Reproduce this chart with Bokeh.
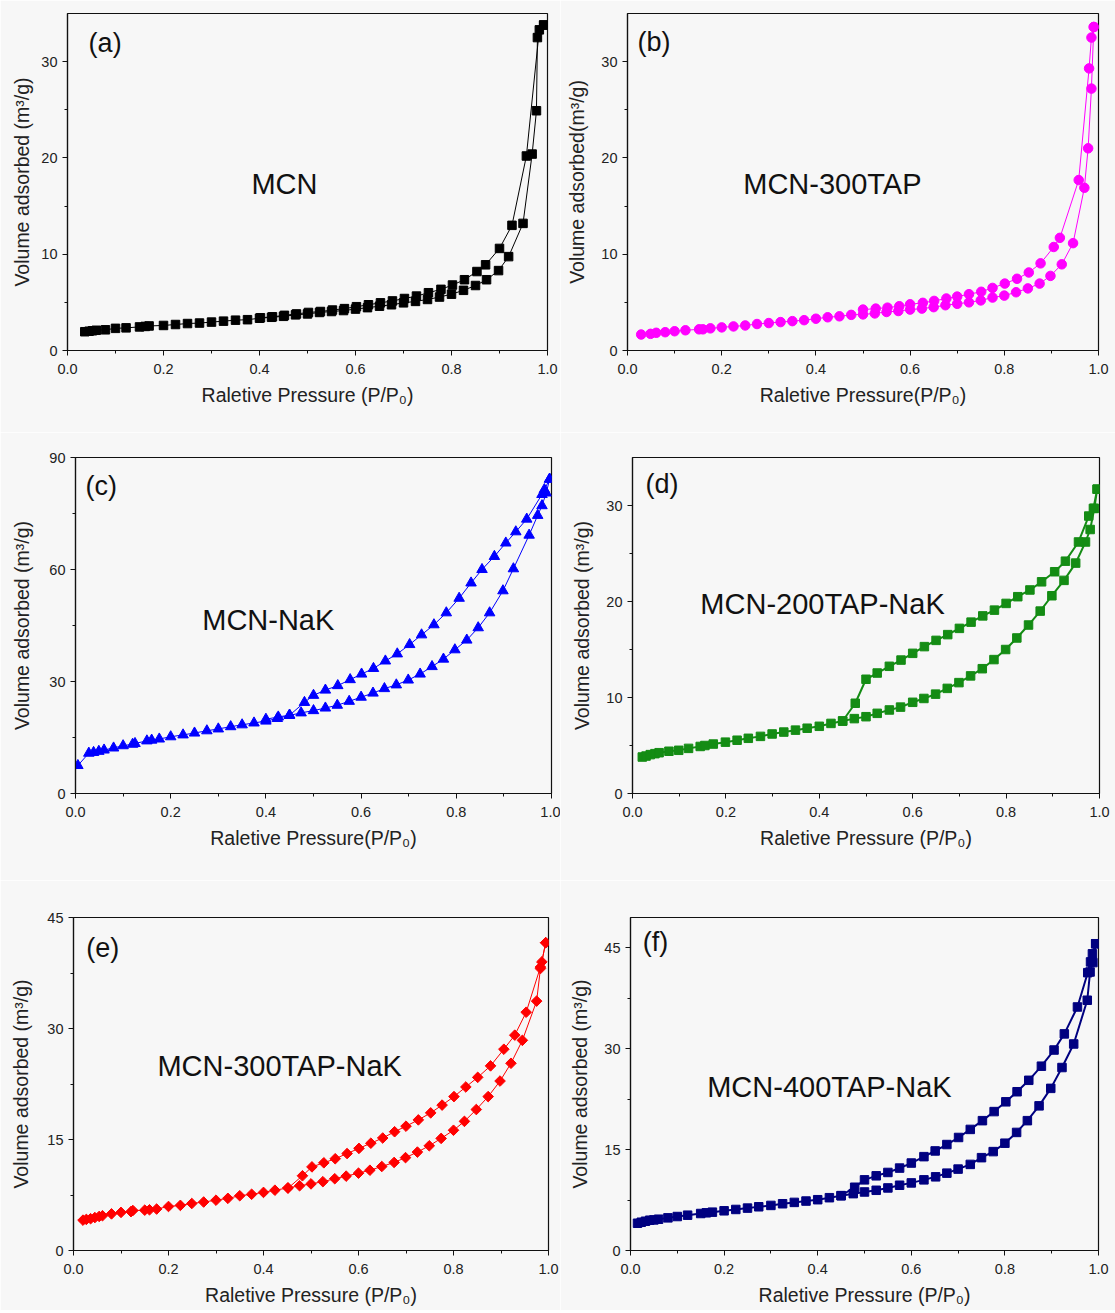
from bokeh.plotting import figure
from bokeh.layouts import column, row
from bokeh.models import Range1d, FixedTicker, PrintfTickFormatter, Label
from bokeh.embed import file_html
from bokeh.resources import INLINE
import math

FONT = "Liberation Sans"

# ---------------- data ----------------
# (a) MCN
ads_p_a = [0.036,0.045,0.052,0.06,0.079,0.1,0.122,0.15,0.162,0.17,0.2,0.225,0.25,0.275,0.3,0.325,0.35,0.375,0.4,0.425,0.45,0.475,0.5,0.525,0.55,0.575,0.6,0.625,0.65,0.675,0.7,0.725,0.75,0.775,0.8,0.825,0.85,0.873,0.898,0.919,0.949,0.968,0.977,0.979,0.992]
ads_v_a = [1.95,2.0,2.05,2.1,2.15,2.3,2.35,2.45,2.5,2.55,2.6,2.7,2.8,2.85,2.95,3.05,3.15,3.2,3.35,3.45,3.55,3.7,3.8,3.95,4.05,4.15,4.3,4.45,4.6,4.75,4.95,5.1,5.3,5.55,5.85,6.25,6.75,7.35,8.3,9.75,13.2,20.4,24.9,32.5,33.8]
des_p_a = [0.992,0.983,0.956,0.926,0.9,0.871,0.853,0.827,0.802,0.778,0.752,0.727,0.702,0.677,0.652,0.627,0.602,0.577,0.552,0.527,0.502,0.477,0.452,0.427,0.402]
des_v_a = [33.8,33.3,20.2,13.0,10.6,8.9,8.2,7.35,6.8,6.35,6.0,5.65,5.4,5.15,4.95,4.75,4.55,4.35,4.2,4.05,3.95,3.8,3.65,3.5,3.4]

# (b) MCN-300TAP
ads_p_b = [0.029,0.049,0.061,0.08,0.1,0.123,0.152,0.16,0.176,0.2,0.225,0.25,0.275,0.3,0.325,0.35,0.375,0.4,0.425,0.45,0.475,0.5,0.525,0.55,0.575,0.6,0.625,0.65,0.675,0.7,0.725,0.75,0.775,0.8,0.825,0.85,0.875,0.898,0.922,0.946,0.97,0.978,0.985,0.99]
ads_v_b = [1.66,1.73,1.84,1.9,2.0,2.1,2.2,2.2,2.3,2.4,2.5,2.6,2.75,2.85,2.95,3.05,3.15,3.3,3.45,3.55,3.7,3.75,3.85,4.0,4.1,4.25,4.35,4.5,4.7,4.85,5.0,5.2,5.5,5.7,6.05,6.45,6.95,7.75,8.95,11.15,16.9,21.0,27.2,33.6]
des_p_b = [0.99,0.985,0.98,0.958,0.918,0.905,0.877,0.852,0.827,0.801,0.775,0.751,0.725,0.7,0.677,0.651,0.627,0.6,0.577,0.552,0.527,0.5]
des_v_b = [33.6,32.5,29.3,17.7,11.7,10.75,9.05,8.1,7.45,6.95,6.5,6.1,5.85,5.6,5.4,5.15,4.95,4.8,4.6,4.45,4.35,4.25]

# (c) MCN-NaK
ads_p_c = [0.005,0.028,0.038,0.049,0.06,0.08,0.1,0.12,0.125,0.15,0.16,0.176,0.2,0.226,0.25,0.276,0.3,0.326,0.35,0.375,0.4,0.424,0.449,0.474,0.5,0.525,0.55,0.575,0.6,0.625,0.649,0.674,0.699,0.724,0.749,0.773,0.797,0.822,0.846,0.87,0.898,0.92,0.953,0.971,0.98,0.989,0.996]
ads_v_c = [7.5,10.8,11.0,11.3,11.65,12.2,12.8,13.2,13.4,14.1,14.3,14.6,15.2,15.7,16.2,16.8,17.3,17.9,18.4,18.9,19.4,20.1,20.9,21.6,22.2,22.9,23.65,24.7,25.8,26.9,28.1,29.1,30.4,32.0,34.0,36.0,38.5,41.1,44.4,48.4,54.3,60.2,69.2,74.5,77.1,80.5,84.2]
des_p_c = [0.996,0.985,0.98,0.948,0.925,0.904,0.88,0.854,0.831,0.806,0.779,0.753,0.727,0.702,0.676,0.651,0.626,0.601,0.577,0.551,0.525,0.5,0.481,0.45,0.426,0.4]
des_v_c = [84.2,81.4,80.1,73.5,70.1,67.1,63.5,60.0,56.4,52.3,48.4,45.2,42.5,39.9,37.4,35.5,33.5,32.0,30.5,28.9,27.7,26.3,24.4,21.0,20.5,19.9]

# (d) MCN-200TAP-NaK
ads_p_d = [0.021,0.029,0.038,0.048,0.057,0.078,0.099,0.12,0.145,0.155,0.173,0.199,0.224,0.248,0.274,0.299,0.324,0.349,0.374,0.4,0.425,0.45,0.475,0.5,0.524,0.55,0.574,0.6,0.624,0.649,0.674,0.699,0.724,0.749,0.774,0.799,0.823,0.848,0.873,0.898,0.924,0.949,0.97,0.98,0.989,0.995]
ads_v_d = [3.8,3.9,4.05,4.15,4.25,4.4,4.5,4.7,4.9,5.0,5.15,5.35,5.55,5.75,5.95,6.2,6.4,6.6,6.8,7.0,7.3,7.55,7.8,8.0,8.35,8.7,9.0,9.5,9.9,10.35,10.95,11.55,12.25,13.0,13.95,15.0,16.2,17.55,19.0,20.6,22.2,24.0,26.2,27.5,29.7,31.7]
des_p_d = [0.995,0.987,0.977,0.955,0.927,0.904,0.876,0.851,0.825,0.8,0.775,0.75,0.725,0.7,0.675,0.65,0.625,0.6,0.575,0.55,0.524,0.5,0.477,0.45]
des_v_d = [31.7,29.7,28.9,26.2,24.2,23.1,22.05,21.2,20.5,19.8,19.1,18.5,17.85,17.2,16.55,15.95,15.3,14.6,13.9,13.25,12.55,11.9,9.4,7.55]

# (e) MCN-300TAP-NaK
ads_p_e = [0.02,0.027,0.036,0.045,0.054,0.061,0.08,0.1,0.121,0.125,0.15,0.16,0.175,0.2,0.225,0.249,0.274,0.3,0.325,0.35,0.375,0.4,0.424,0.451,0.476,0.5,0.525,0.55,0.574,0.6,0.624,0.649,0.675,0.699,0.724,0.749,0.774,0.8,0.823,0.848,0.873,0.898,0.921,0.945,0.975,0.983,0.994]
ads_v_e = [4.1,4.2,4.3,4.45,4.6,4.7,4.95,5.15,5.25,5.4,5.45,5.5,5.6,5.95,6.1,6.35,6.55,6.8,7.05,7.4,7.6,7.85,8.15,8.45,8.75,9.0,9.3,9.7,10.05,10.45,10.85,11.35,11.9,12.55,13.3,14.15,15.15,16.25,17.45,19.05,20.8,22.9,25.3,28.4,33.7,38.1,41.6]
des_p_e = [0.994,0.986,0.983,0.953,0.929,0.906,0.878,0.851,0.826,0.801,0.776,0.752,0.726,0.7,0.676,0.651,0.626,0.601,0.576,0.551,0.527,0.502,0.482,0.452]
des_v_e = [41.6,39.0,38.3,32.2,29.1,27.2,24.95,23.4,22.1,20.8,19.65,18.6,17.65,16.8,16.05,15.2,14.5,13.8,13.1,12.4,11.85,11.3,10.1,8.45]

# (f) MCN-400TAP-NaK
ads_p_f = [0.015,0.023,0.032,0.041,0.05,0.06,0.08,0.1,0.122,0.15,0.162,0.175,0.2,0.225,0.25,0.274,0.3,0.325,0.35,0.375,0.4,0.425,0.45,0.476,0.5,0.525,0.55,0.575,0.6,0.627,0.652,0.676,0.7,0.726,0.75,0.775,0.8,0.825,0.848,0.873,0.898,0.922,0.947,0.976,0.982,0.988,0.994]
ads_v_f = [4.05,4.2,4.35,4.5,4.55,4.65,4.85,5.05,5.25,5.5,5.6,5.7,5.9,6.1,6.3,6.5,6.7,6.95,7.15,7.35,7.55,7.85,8.15,8.45,8.7,8.95,9.3,9.7,10.05,10.5,10.95,11.5,12.1,12.8,13.8,14.7,15.95,17.55,19.3,21.5,24.1,27.2,30.7,37.2,41.4,42.8,45.6]
des_p_f = [0.994,0.987,0.983,0.977,0.955,0.927,0.905,0.878,0.851,0.826,0.802,0.777,0.752,0.726,0.701,0.676,0.651,0.627,0.6,0.575,0.55,0.525,0.5,0.479,0.45]
des_v_f = [45.6,44.1,42.9,41.3,36.2,32.2,29.8,27.4,25.3,23.6,22.1,20.65,19.3,18.0,16.8,15.75,14.8,13.95,13.0,12.25,11.6,11.1,10.5,9.4,8.15]

x_ticks = [0.0, 0.2, 0.4, 0.6, 0.8, 1.0]
x_minor = [0.1, 0.3, 0.5, 0.7, 0.9]

BG = "#f7f7f7"


def make_panel(letter, name, ads_p, ads_v, des_p, des_v, color, marker, msize, lw,
               ymax, yticks, yminor, ylabel, xlabel,
               width, height, bl, br, bt, bb,
               letter_pos, name_pos, ystand, angle=0.0):
    p = figure(width=width, height=height, output_backend="svg", toolbar_location=None,
               x_range=Range1d(0, 1), y_range=Range1d(0, ymax),
               min_border_left=bl, min_border_right=br, min_border_top=bt, min_border_bottom=bb,
               background_fill_color=BG, border_fill_color=BG)
    p.grid.visible = False
    p.outline_line_color = "#111111"
    p.outline_line_width = 1.2
    p.xaxis.ticker = FixedTicker(ticks=x_ticks, minor_ticks=x_minor)
    p.xaxis.formatter = PrintfTickFormatter(format="%.1f")
    p.yaxis.ticker = FixedTicker(ticks=yticks, minor_ticks=yminor)
    for ax in (p.xaxis[0], p.yaxis[0]):
        ax.axis_line_color = "#111111"
        ax.axis_line_width = 1.2
        ax.major_tick_line_color = "#111111"
        ax.minor_tick_line_color = "#111111"
        ax.major_tick_in = 0
        ax.major_tick_out = 5
        ax.minor_tick_in = 0
        ax.minor_tick_out = 3
        ax.major_label_text_font = FONT
        ax.major_label_text_font_size = "14.5px"
        ax.major_label_text_color = "#222222"
        ax.axis_label_text_font = FONT
        ax.axis_label_text_font_size = "19.5px"
        ax.axis_label_text_font_style = "normal"
        ax.axis_label_text_color = "#222222"
    p.xaxis.axis_label = xlabel
    p.yaxis.axis_label = ylabel
    p.xaxis.major_label_standoff = 8
    p.xaxis.axis_label_standoff = 7
    p.yaxis.major_label_standoff = 5
    p.yaxis.axis_label_standoff = ystand

    line_x = list(ads_p) + list(des_p)
    line_y = list(ads_v) + list(des_v)
    p.line(line_x, line_y, line_color=color, line_width=lw)
    p.scatter(ads_p, ads_v, marker=marker, size=msize, fill_color=color, line_color=color, angle=angle)
    p.scatter(des_p, des_v, marker=marker, size=msize, fill_color=color, line_color=color, angle=angle)

    p.add_layout(Label(x=letter_pos[0], y=letter_pos[1], text=letter, text_font=FONT,
                       text_font_size="27px", text_baseline="middle", text_align="left",
                       text_color="#111111"))
    p.add_layout(Label(x=name_pos[0], y=name_pos[1], text=name, text_font=FONT,
                       text_font_size="29px", text_baseline="middle", text_align="center",
                       text_color="#111111"))
    return p


YL = "Volume adsorbed (m\u00b3/g)"
XL = "Raletive Pressure (P/P\u2080)"

pa = make_panel("(a)", "MCN", ads_p_a, ads_v_a, des_p_a, des_v_a, "#000000", "square", 8.5, 1,
                35, [0, 10, 20, 30], [5, 15, 25], YL, XL,
                560, 432, 67, 13, 12, 80, (0.044, 31.9), (0.452, 17.3), 5)
pb = make_panel("(b)", "MCN-300TAP", ads_p_b, ads_v_b, des_p_b, des_v_b, "#ff00ff", "circle", 9.5, 1,
                35, [0, 10, 20, 30], [5, 15, 25], "Volume adsorbed(m\u00b3/g)", "Raletive Pressure(P/P\u2080)",
                555, 432, 67, 17, 13, 82, (0.021, 32.0), (0.435, 17.3), 10)
pc = make_panel("(c)", "MCN-NaK", ads_p_c, ads_v_c, des_p_c, des_v_c, "#0000ff", "triangle", 10.5, 1,
                90, [0, 30, 60, 90], [15, 45, 75], YL, "Raletive Pressure(P/P\u2080)",
                560, 448, 75, 9, 21, 87, (0.021, 82.3), (0.405, 46.6), 13)
pd = make_panel("(d)", "MCN-200TAP-NaK", ads_p_d, ads_v_d, des_p_d, des_v_d, "#148c14", "square", 8.5, 2,
                35, [0, 10, 20, 30], [5, 15, 25], YL, XL,
                555, 448, 72, 16, 25, 87, (0.028, 32.2), (0.407, 19.7), 10)
pe = make_panel("(e)", "MCN-300TAP-NaK", ads_p_e, ads_v_e, des_p_e, des_v_e, "#ff0000", "square", 7.5, 1,
                45, [0, 15, 30, 45], [7.5, 22.5, 37.5], YL, XL,
                560, 430, 73, 12, 30, 60, (0.027, 40.9), (0.434, 25.0), 12, angle=math.pi / 4)
pf = make_panel("(f)", "MCN-400TAP-NaK", ads_p_f, ads_v_f, des_p_f, des_v_f, "#000080", "square", 8.5, 2,
                49.5, [0, 15, 30, 45], [7.5, 22.5, 37.5], YL, XL,
                555, 430, 70, 17, 37, 59, (0.026, 45.9), (0.425, 24.3), 10)

layout = column(row(pa, pb), row(pc, pd), row(pe, pf))

open("out.html", "w").write(file_html(layout, INLINE))
